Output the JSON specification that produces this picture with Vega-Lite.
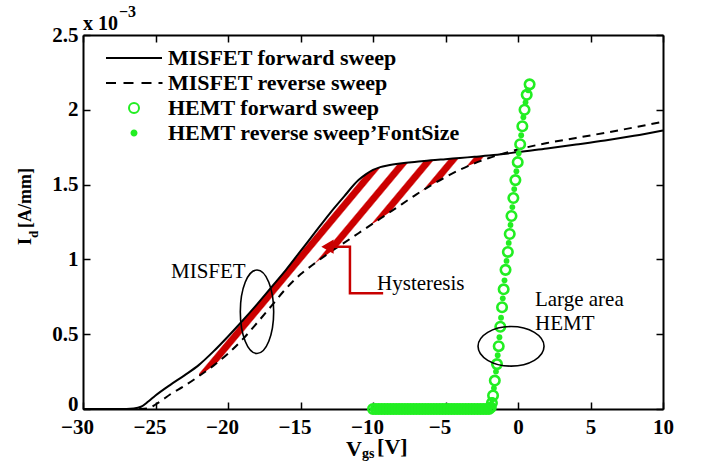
{
  "$schema": "https://vega.github.io/schema/vega-lite/v6.json",
  "width": 580,
  "height": 374,
  "autosize": {"type": "none"},
  "padding": {"left": 83, "top": 35, "right": 38, "bottom": 52},
  "background": "white",
  "config": {"view": {"stroke": null}, "font": "Liberation Serif"},
  "datasets": {
    "mf": [
      {"V": -30, "I": 0}, {"V": -27, "I": 0}, {"V": -26.5, "I": 0.003}, {"V": -26, "I": 0.015}, {"V": -25.5, "I": 0.05},
      {"V": -25, "I": 0.09}, {"V": -24, "I": 0.16}, {"V": -23, "I": 0.225}, {"V": -22, "I": 0.295}, {"V": -21, "I": 0.385},
      {"V": -20, "I": 0.485}, {"V": -19, "I": 0.59}, {"V": -18, "I": 0.7}, {"V": -17, "I": 0.815}, {"V": -16, "I": 0.93},
      {"V": -15, "I": 1.055}, {"V": -14, "I": 1.18}, {"V": -13, "I": 1.305}, {"V": -12, "I": 1.42}, {"V": -11, "I": 1.53},
      {"V": -10.5, "I": 1.568}, {"V": -10, "I": 1.598}, {"V": -9.5, "I": 1.617}, {"V": -9, "I": 1.628}, {"V": -8, "I": 1.642},
      {"V": -7, "I": 1.652}, {"V": -6, "I": 1.662}, {"V": -5, "I": 1.67}, {"V": -4, "I": 1.678}, {"V": -3, "I": 1.686},
      {"V": -2, "I": 1.694}, {"V": -1, "I": 1.704}, {"V": 0, "I": 1.718}, {"V": 2, "I": 1.742}, {"V": 4, "I": 1.768},
      {"V": 6, "I": 1.795}, {"V": 8, "I": 1.826}, {"V": 10, "I": 1.862}
    ],
    "mr": [
      {"V": -30, "I": 0}, {"V": -26, "I": 0}, {"V": -25.5, "I": 0.005}, {"V": -25, "I": 0.03}, {"V": -24.5, "I": 0.062},
      {"V": -24, "I": 0.097}, {"V": -23, "I": 0.155}, {"V": -22, "I": 0.22}, {"V": -21, "I": 0.29}, {"V": -20, "I": 0.37},
      {"V": -19, "I": 0.465}, {"V": -18, "I": 0.575}, {"V": -17, "I": 0.69}, {"V": -16, "I": 0.805}, {"V": -15, "I": 0.9},
      {"V": -14, "I": 0.975}, {"V": -13, "I": 1.045}, {"V": -12, "I": 1.11}, {"V": -11, "I": 1.175}, {"V": -10, "I": 1.24},
      {"V": -9, "I": 1.305}, {"V": -8, "I": 1.37}, {"V": -7, "I": 1.435}, {"V": -6, "I": 1.495}, {"V": -5, "I": 1.55},
      {"V": -4, "I": 1.6}, {"V": -3, "I": 1.642}, {"V": -2, "I": 1.678}, {"V": -1, "I": 1.708}, {"V": 0, "I": 1.735},
      {"V": 2, "I": 1.778}, {"V": 4, "I": 1.812}, {"V": 6, "I": 1.846}, {"V": 8, "I": 1.882}, {"V": 10, "I": 1.92}
    ],
    "band": [
      {"V": -22, "top": 0.295, "bot": 0.22}, {"V": -21, "top": 0.385, "bot": 0.29}, {"V": -20, "top": 0.485, "bot": 0.37},
      {"V": -19, "top": 0.59, "bot": 0.465}, {"V": -18, "top": 0.7, "bot": 0.575}, {"V": -17, "top": 0.815, "bot": 0.69},
      {"V": -16, "top": 0.93, "bot": 0.805}, {"V": -15, "top": 1.055, "bot": 0.9}, {"V": -14, "top": 1.18, "bot": 0.975},
      {"V": -13, "top": 1.305, "bot": 1.045}, {"V": -12, "top": 1.42, "bot": 1.11}, {"V": -11, "top": 1.53, "bot": 1.175},
      {"V": -10.5, "top": 1.568, "bot": 1.2075}, {"V": -10, "top": 1.598, "bot": 1.24}, {"V": -9.5, "top": 1.617, "bot": 1.2725},
      {"V": -9, "top": 1.628, "bot": 1.305}, {"V": -8, "top": 1.642, "bot": 1.37}, {"V": -7, "top": 1.652, "bot": 1.435},
      {"V": -6, "top": 1.662, "bot": 1.495}, {"V": -5, "top": 1.67, "bot": 1.55}, {"V": -4, "top": 1.678, "bot": 1.6},
      {"V": -3, "top": 1.686, "bot": 1.642}, {"V": -2, "top": 1.694, "bot": 1.678}
    ],
    "hf": [
      {"V": -10, "I": 0}, {"V": -9.8, "I": 0}, {"V": -9.6, "I": 0}, {"V": -9.4, "I": 0}, {"V": -9.2, "I": 0}, {"V": -9, "I": 0},
      {"V": -8.8, "I": 0}, {"V": -8.6, "I": 0}, {"V": -8.4, "I": 0}, {"V": -8.2, "I": 0}, {"V": -8, "I": 0}, {"V": -7.8, "I": 0},
      {"V": -7.6, "I": 0}, {"V": -7.4, "I": 0}, {"V": -7.2, "I": 0}, {"V": -7, "I": 0}, {"V": -6.8, "I": 0}, {"V": -6.6, "I": 0},
      {"V": -6.4, "I": 0}, {"V": -6.2, "I": 0}, {"V": -6, "I": 0}, {"V": -5.8, "I": 0}, {"V": -5.6, "I": 0}, {"V": -5.4, "I": 0},
      {"V": -5.2, "I": 0}, {"V": -5, "I": 0}, {"V": -4.8, "I": 0}, {"V": -4.6, "I": 0}, {"V": -4.4, "I": 0}, {"V": -4.2, "I": 0},
      {"V": -4, "I": 0}, {"V": -3.8, "I": 0}, {"V": -3.6, "I": 0}, {"V": -3.4, "I": 0}, {"V": -3.2, "I": 0}, {"V": -3, "I": 0},
      {"V": -2.8, "I": 0}, {"V": -2.6, "I": 0}, {"V": -2.4, "I": 0}, {"V": -2.2, "I": 0}, {"V": -2, "I": 0},
      {"V": -1.88, "I": 0.01}, {"V": -1.8, "I": 0.04}, {"V": -1.72, "I": 0.09}, {"V": -1.6, "I": 0.19}, {"V": -1.45, "I": 0.3},
      {"V": -1.33, "I": 0.42}, {"V": -1.22, "I": 0.55}, {"V": -1.1, "I": 0.68}, {"V": -0.99, "I": 0.8}, {"V": -0.86, "I": 0.93},
      {"V": -0.7, "I": 1.05}, {"V": -0.57, "I": 1.17}, {"V": -0.45, "I": 1.29}, {"V": -0.32, "I": 1.41}, {"V": -0.18, "I": 1.53},
      {"V": -0.02, "I": 1.65}, {"V": 0.15, "I": 1.77}, {"V": 0.3, "I": 1.89}, {"V": 0.45, "I": 2.0}, {"V": 0.6, "I": 2.1},
      {"V": 0.8, "I": 2.17}
    ],
    "hr": [
      {"V": -9.9, "I": 0}, {"V": -9.7, "I": 0}, {"V": -9.5, "I": 0}, {"V": -9.3, "I": 0}, {"V": -9.1, "I": 0}, {"V": -8.9, "I": 0},
      {"V": -8.7, "I": 0}, {"V": -8.5, "I": 0}, {"V": -8.3, "I": 0}, {"V": -8.1, "I": 0}, {"V": -7.9, "I": 0}, {"V": -7.7, "I": 0},
      {"V": -7.5, "I": 0}, {"V": -7.3, "I": 0}, {"V": -7.1, "I": 0}, {"V": -6.9, "I": 0}, {"V": -6.7, "I": 0}, {"V": -6.5, "I": 0},
      {"V": -6.3, "I": 0}, {"V": -6.1, "I": 0}, {"V": -5.9, "I": 0}, {"V": -5.7, "I": 0}, {"V": -5.5, "I": 0}, {"V": -5.3, "I": 0},
      {"V": -5.1, "I": 0}, {"V": -4.9, "I": 0}, {"V": -4.7, "I": 0}, {"V": -4.5, "I": 0}, {"V": -4.3, "I": 0}, {"V": -4.1, "I": 0},
      {"V": -3.9, "I": 0}, {"V": -3.7, "I": 0}, {"V": -3.5, "I": 0}, {"V": -3.3, "I": 0}, {"V": -3.1, "I": 0}, {"V": -2.9, "I": 0},
      {"V": -2.7, "I": 0}, {"V": -2.5, "I": 0}, {"V": -2.3, "I": 0}, {"V": -2.1, "I": 0},
      {"V": -1.95, "I": 0.0}, {"V": -1.85, "I": 0.02}, {"V": -1.78, "I": 0.06}, {"V": -1.66, "I": 0.14}, {"V": -1.52, "I": 0.25},
      {"V": -1.4, "I": 0.36}, {"V": -1.28, "I": 0.48}, {"V": -1.17, "I": 0.61}, {"V": -1.05, "I": 0.74}, {"V": -0.93, "I": 0.86},
      {"V": -0.79, "I": 0.99}, {"V": -0.64, "I": 1.11}, {"V": -0.52, "I": 1.23}, {"V": -0.39, "I": 1.35}, {"V": -0.26, "I": 1.47},
      {"V": -0.11, "I": 1.59}, {"V": 0.05, "I": 1.71}, {"V": 0.22, "I": 1.83}, {"V": 0.37, "I": 1.95}, {"V": 0.52, "I": 2.05},
      {"V": 0.7, "I": 2.13}
    ],
    "arrow": [
      {"V": -9.3, "I": 0.773, "o": 1}, {"V": -11.59, "I": 0.773, "o": 2}, {"V": -11.59, "I": 1.085, "o": 3}, {"V": -12.7, "I": 1.085, "o": 4}
    ],
    "legend": [
      {"series": "MISFET forward sweep", "V": -20, "I": 1},
      {"series": "MISFET reverse sweep", "V": -20, "I": 1},
      {"series": "HEMT forward sweep", "V": -20, "I": 1},
      {"series": "HEMT reverse sweep’FontSize", "V": -20, "I": 1}
    ]
  },
  "layer": [
    {
      "data": {"name": "band"},
      "mark": {
        "type": "area",
        "interpolate": "monotone",
        "color": {
          "gradient": "linear", "x1": 0, "y1": 0, "x2": 1, "y2": 0.635,
          "stops": [
            {"offset": 0, "color": "#ffffff"},
            {"offset": 0.388, "color": "#ffffff"}, {"offset": 0.392, "color": "#cc0000"}, {"offset": 0.4102, "color": "#cc0000"}, {"offset": 0.4142, "color": "#ffffff"},
            {"offset": 0.4459, "color": "#ffffff"}, {"offset": 0.4499, "color": "#cc0000"}, {"offset": 0.4681, "color": "#cc0000"}, {"offset": 0.4721, "color": "#ffffff"},
            {"offset": 0.5038, "color": "#ffffff"}, {"offset": 0.5078, "color": "#cc0000"}, {"offset": 0.526, "color": "#cc0000"}, {"offset": 0.53, "color": "#ffffff"},
            {"offset": 0.5617, "color": "#ffffff"}, {"offset": 0.5657, "color": "#cc0000"}, {"offset": 0.5839, "color": "#cc0000"}, {"offset": 0.5879, "color": "#ffffff"},
            {"offset": 0.6196, "color": "#ffffff"}, {"offset": 0.6236, "color": "#cc0000"}, {"offset": 0.6418, "color": "#cc0000"}, {"offset": 0.6458, "color": "#ffffff"},
            {"offset": 0.6775, "color": "#ffffff"}, {"offset": 0.6815, "color": "#cc0000"}, {"offset": 0.6997, "color": "#cc0000"}, {"offset": 0.7037, "color": "#ffffff"},
            {"offset": 0.7354, "color": "#ffffff"}, {"offset": 0.7394, "color": "#cc0000"}, {"offset": 0.7576, "color": "#cc0000"}, {"offset": 0.7616, "color": "#ffffff"},
            {"offset": 1, "color": "#ffffff"}
          ]
        }
      },
      "encoding": {
        "x": {"field": "V", "type": "quantitative", "scale": {"domain": [-30, 10], "nice": false, "zero": false}, "axis": null},
        "y": {"field": "top", "type": "quantitative", "scale": {"domain": [0, 2.5], "nice": false, "zero": false}, "axis": null},
        "y2": {"field": "bot"}
      }
    },
    {
      "data": {"name": "mf"},
      "mark": {"type": "line", "color": "#000000", "strokeWidth": 2, "interpolate": "monotone"},
      "encoding": {
        "x": {"field": "V", "type": "quantitative", "scale": {"domain": [-30, 10], "nice": false, "zero": false},
          "axis": {"orient": "bottom", "values": [-30, -25, -20, -15, -10, -5, 0, 5, 10], "format": "~g", "title": null, "grid": false,
            "tickSize": -7, "tickColor": "#000000", "tickWidth": 1.5, "domainColor": "#000000", "domainWidth": 2,
            "labelFont": "Liberation Serif", "labelFontWeight": "bold", "labelFontSize": 21, "labelColor": "#000000",
            "labelPadding": 14, "labelFlush": false, "labelOverlap": false,
            "labelOffset": {"condition": {"test": "datum.value < 0", "value": -6}, "value": 0}}},
        "y": {"field": "I", "type": "quantitative", "scale": {"domain": [0, 2.5], "nice": false, "zero": false},
          "axis": {"orient": "left", "values": [0, 0.5, 1, 1.5, 2, 2.5], "format": "~g", "title": null, "grid": false,
            "tickSize": -7, "tickColor": "#000000", "tickWidth": 1.5, "domainColor": "#000000", "domainWidth": 2,
            "labelFont": "Liberation Serif", "labelFontWeight": "bold", "labelFontSize": 21, "labelColor": "#000000",
            "labelPadding": 12, "labelFlush": false, "labelOverlap": false,
            "labelOffset": {"condition": {"test": "datum.value == 0", "value": -5}, "value": 0}}}
      }
    },
    {
      "data": {"name": "mr"},
      "mark": {"type": "line", "color": "#000000", "strokeWidth": 2, "strokeDash": [8, 6], "interpolate": "monotone"},
      "encoding": {
        "x": {"field": "V", "type": "quantitative", "scale": {"domain": [-30, 10], "nice": false, "zero": false}, "axis": null},
        "y": {"field": "I", "type": "quantitative", "scale": {"domain": [0, 2.5], "nice": false, "zero": false}, "axis": null}
      }
    },
    {
      "data": {"name": "arrow"},
      "mark": {"type": "line", "color": "#c80000", "strokeWidth": 2.5},
      "encoding": {
        "x": {"field": "V", "type": "quantitative", "scale": {"domain": [-30, 10], "nice": false, "zero": false}, "axis": null},
        "y": {"field": "I", "type": "quantitative", "scale": {"domain": [0, 2.5], "nice": false, "zero": false}, "axis": null},
        "order": {"field": "o", "type": "quantitative"}
      }
    },
    {
      "data": {"values": [{"V": -13.14, "I": 1.085}]},
      "mark": {"type": "point", "shape": "triangle-left", "filled": true, "color": "#c80000", "size": 200, "opacity": 1},
      "encoding": {
        "x": {"field": "V", "type": "quantitative", "scale": {"domain": [-30, 10], "nice": false, "zero": false}, "axis": null},
        "y": {"field": "I", "type": "quantitative", "scale": {"domain": [0, 2.5], "nice": false, "zero": false}, "axis": null}
      }
    },
    {
      "data": {"name": "hr"},
      "mark": {"type": "point", "shape": "circle", "filled": true, "color": "#22ee22", "size": 34, "opacity": 1},
      "encoding": {
        "x": {"field": "V", "type": "quantitative", "scale": {"domain": [-30, 10], "nice": false, "zero": false}, "axis": null},
        "y": {"field": "I", "type": "quantitative", "scale": {"domain": [0, 2.5], "nice": false, "zero": false}, "axis": null}
      }
    },
    {
      "data": {"name": "hf"},
      "mark": {"type": "point", "shape": "circle", "filled": false, "color": "#22ee22", "strokeWidth": 2.6, "size": 90, "opacity": 1},
      "encoding": {
        "x": {"field": "V", "type": "quantitative", "scale": {"domain": [-30, 10], "nice": false, "zero": false},
          "axis": {"orient": "top", "values": [-30, -25, -20, -15, -10, -5, 0, 5, 10], "labels": false, "title": null, "grid": false,
            "tickSize": -7, "tickColor": "#000000", "tickWidth": 1.5, "domainColor": "#000000", "domainWidth": 2}},
        "y": {"field": "I", "type": "quantitative", "scale": {"domain": [0, 2.5], "nice": false, "zero": false},
          "axis": {"orient": "right", "values": [0, 0.5, 1, 1.5, 2, 2.5], "labels": false, "title": null, "grid": false,
            "tickSize": -7, "tickColor": "#000000", "tickWidth": 1.5, "domainColor": "#000000", "domainWidth": 2}}
      }
    },
    {
      "data": {"values": [{"V": -18.0, "I": 0.65}]},
      "mark": {"type": "point", "shape": "M 0.4 0 C 0.4 0.5523 0.2209 1 0 1 C -0.2209 1 -0.4 0.5523 -0.4 0 C -0.4 -0.5523 -0.2209 -1 0 -1 C 0.2209 -1 0.4 -0.5523 0.4 0 Z",
        "filled": false, "color": "#000000", "strokeWidth": 1.6, "size": 6956, "opacity": 1},
      "encoding": {
        "x": {"field": "V", "type": "quantitative", "scale": {"domain": [-30, 10], "nice": false, "zero": false}, "axis": null},
        "y": {"field": "I", "type": "quantitative", "scale": {"domain": [0, 2.5], "nice": false, "zero": false}, "axis": null}
      }
    },
    {
      "data": {"values": [{"V": -0.48, "I": 0.419}]},
      "mark": {"type": "point", "shape": "M 1 0 C 1 0.3314 0.5523 0.6 0 0.6 C -0.5523 0.6 -1 0.3314 -1 0 C -1 -0.3314 -0.5523 -0.6 0 -0.6 C 0.5523 -0.6 1 -0.3314 1 0 Z",
        "filled": false, "color": "#000000", "strokeWidth": 1.6, "size": 4356, "opacity": 1},
      "encoding": {
        "x": {"field": "V", "type": "quantitative", "scale": {"domain": [-30, 10], "nice": false, "zero": false}, "axis": null},
        "y": {"field": "I", "type": "quantitative", "scale": {"domain": [0, 2.5], "nice": false, "zero": false}, "axis": null}
      }
    },
    {
      "data": {"name": "legend"},
      "mark": {"type": "point", "opacity": 0},
      "encoding": {
        "x": {"field": "V", "type": "quantitative", "scale": {"domain": [-30, 10], "nice": false, "zero": false}, "axis": null},
        "y": {"field": "I", "type": "quantitative", "scale": {"domain": [0, 2.5], "nice": false, "zero": false}, "axis": null},
        "shape": {"field": "series", "type": "nominal",
          "scale": {"domain": ["MISFET forward sweep", "MISFET reverse sweep", "HEMT forward sweep", "HEMT reverse sweep’FontSize"],
            "range": ["M -5.6 0 L 5.6 0", "M -5.6 0 L -3.6 0 M -2.1 0 L -0.1 0 M 1.5 0 L 3.5 0 M 4.9 0 L 5.7 0", "circle",
              "M 0.5 0 C 0.5 0.276 0.276 0.5 0 0.5 C -0.276 0.5 -0.5 0.276 -0.5 0 C -0.5 -0.276 -0.276 -0.5 0 -0.5 C 0.276 -0.5 0.5 -0.276 0.5 0 Z"]},
          "legend": {"title": null, "orient": "none", "legendX": 40, "legendY": 12, "padding": 0, "labelOffset": 23, "rowPadding": 3,
            "symbolSize": 100, "symbolStrokeWidth": 2, "symbolOpacity": 1, "labelFont": "Liberation Serif", "labelFontWeight": "bold",
            "labelFontSize": 22, "labelColor": "#000000", "labelLimit": 600}},
        "stroke": {"field": "series", "type": "nominal",
          "scale": {"domain": ["MISFET forward sweep", "MISFET reverse sweep", "HEMT forward sweep", "HEMT reverse sweep’FontSize"],
            "range": ["#000000", "#000000", "#22ee22", "#22ee22"]},
          "legend": {"title": null, "orient": "none", "legendX": 40, "legendY": 12, "padding": 0, "labelOffset": 23, "rowPadding": 3,
            "symbolSize": 100, "symbolStrokeWidth": 2, "symbolOpacity": 1, "labelFont": "Liberation Serif", "labelFontWeight": "bold",
            "labelFontSize": 22, "labelColor": "#000000", "labelLimit": 600}},
        "fill": {"field": "series", "type": "nominal",
          "scale": {"domain": ["MISFET forward sweep", "MISFET reverse sweep", "HEMT forward sweep", "HEMT reverse sweep’FontSize"],
            "range": ["transparent", "transparent", "transparent", "#22ee22"]},
          "legend": {"title": null, "orient": "none", "legendX": 40, "legendY": 12, "padding": 0, "labelOffset": 23, "rowPadding": 3,
            "symbolSize": 100, "symbolStrokeWidth": 2, "symbolOpacity": 1, "labelFont": "Liberation Serif", "labelFontWeight": "bold",
            "labelFontSize": 22, "labelColor": "#000000", "labelLimit": 600}}
      }
    },
    {
      "data": {"values": [
        {"label": "MISFET", "V": -23.93, "I": 0.876},
        {"label": "Hysteresis", "V": -9.72, "I": 0.795},
        {"label": "Large area", "V": 1.17, "I": 0.689},
        {"label": "HEMT", "V": 1.17, "I": 0.528}
      ]},
      "mark": {"type": "text", "font": "Liberation Serif", "fontSize": 21, "align": "left", "baseline": "alphabetic", "color": "#000000"},
      "encoding": {
        "x": {"field": "V", "type": "quantitative", "scale": {"domain": [-30, 10], "nice": false, "zero": false}, "axis": null},
        "y": {"field": "I", "type": "quantitative", "scale": {"domain": [0, 2.5], "nice": false, "zero": false}, "axis": null},
        "text": {"field": "label"}
      }
    },
    {
      "data": {"values": [{"label": "x 10", "V": -30, "I": 2.533}]},
      "mark": {"type": "text", "font": "Liberation Serif", "fontWeight": "bold", "fontSize": 20, "align": "left", "baseline": "alphabetic", "color": "#000000"},
      "encoding": {
        "x": {"field": "V", "type": "quantitative", "scale": {"domain": [-30, 10], "nice": false, "zero": false}, "axis": null},
        "y": {"field": "I", "type": "quantitative", "scale": {"domain": [0, 2.5], "nice": false, "zero": false}, "axis": null},
        "text": {"field": "label"}
      }
    },
    {
      "data": {"values": [{"label": "−3", "V": -27.52, "I": 2.62}]},
      "mark": {"type": "text", "font": "Liberation Serif", "fontWeight": "bold", "fontSize": 16, "align": "left", "baseline": "alphabetic", "color": "#000000"},
      "encoding": {
        "x": {"field": "V", "type": "quantitative", "scale": {"domain": [-30, 10], "nice": false, "zero": false}, "axis": null},
        "y": {"field": "I", "type": "quantitative", "scale": {"domain": [0, 2.5], "nice": false, "zero": false}, "axis": null},
        "text": {"field": "label"}
      }
    },
    {
      "data": {"values": [{"label": "V", "V": -11.86, "I": -0.315}, {"label": "[V]", "V": -9.72, "I": -0.301}]},
      "mark": {"type": "text", "font": "Liberation Serif", "fontWeight": "bold", "fontSize": 22, "align": "left", "baseline": "alphabetic", "color": "#000000"},
      "encoding": {
        "x": {"field": "V", "type": "quantitative", "scale": {"domain": [-30, 10], "nice": false, "zero": false}, "axis": null},
        "y": {"field": "I", "type": "quantitative", "scale": {"domain": [0, 2.5], "nice": false, "zero": false}, "axis": null},
        "text": {"field": "label"}
      }
    },
    {
      "data": {"values": [{"label": "gs", "V": -10.76, "I": -0.328}]},
      "mark": {"type": "text", "font": "Liberation Serif", "fontWeight": "bold", "fontSize": 14, "align": "left", "baseline": "alphabetic", "color": "#000000"},
      "encoding": {
        "x": {"field": "V", "type": "quantitative", "scale": {"domain": [-30, 10], "nice": false, "zero": false}, "axis": null},
        "y": {"field": "I", "type": "quantitative", "scale": {"domain": [0, 2.5], "nice": false, "zero": false}, "axis": null},
        "text": {"field": "label"}
      }
    },
    {
      "data": {"values": [{"label": "I", "V": -33.59, "I": 1.096}, {"label": "[A/mm]", "V": -33.59, "I": 1.21}]},
      "mark": {"type": "text", "font": "Liberation Serif", "fontWeight": "bold", "fontSize": 18, "angle": 270, "align": "left", "baseline": "alphabetic", "color": "#000000"},
      "encoding": {
        "x": {"field": "V", "type": "quantitative", "scale": {"domain": [-30, 10], "nice": false, "zero": false}, "axis": null},
        "y": {"field": "I", "type": "quantitative", "scale": {"domain": [0, 2.5], "nice": false, "zero": false}, "axis": null},
        "text": {"field": "label"}
      }
    },
    {
      "data": {"values": [{"label": "d", "V": -33.1, "I": 1.143}]},
      "mark": {"type": "text", "font": "Liberation Serif", "fontWeight": "bold", "fontSize": 13, "angle": 270, "align": "left", "baseline": "alphabetic", "color": "#000000"},
      "encoding": {
        "x": {"field": "V", "type": "quantitative", "scale": {"domain": [-30, 10], "nice": false, "zero": false}, "axis": null},
        "y": {"field": "I", "type": "quantitative", "scale": {"domain": [0, 2.5], "nice": false, "zero": false}, "axis": null},
        "text": {"field": "label"}
      }
    }
  ]
}
